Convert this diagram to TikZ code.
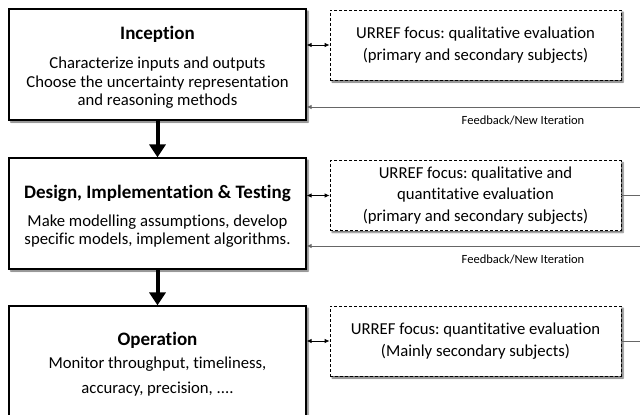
\documentclass[tikz,border=0pt]{standalone}
\usepackage{fontspec}
\setmainfont{Carlito}[Ligatures=NoCommon]
\frenchspacing
\usetikzlibrary{arrows.meta,shadows.blur}

\tikzset{
  soft shadow/.style={blur shadow={shadow xshift=2pt, shadow yshift=-2pt,
    shadow blur radius=1.5pt, shadow blur steps=6, shadow opacity=60}},
  stage/.style={draw, line width=1.2pt, fill=white, minimum width=297pt,
    minimum height=111pt, inner sep=0pt, align=center,
    font=\fontsize{16.7}{18.5}\selectfont, soft shadow},
  focus/.style={draw, line width=0.8pt, dash pattern=on 3pt off 2pt, fill=white,
    minimum width=291pt, minimum height=70pt, inner sep=0pt, align=center,
    font=\fontsize{16.7}{21.5}\selectfont, soft shadow},
  fblabel/.style={font=\fontsize{12.5}{14}\selectfont, inner sep=0pt},
  flow/.style={line width=4pt, -{Triangle[width=16pt,length=13pt]}},
  link/.style={line width=0.8pt, {Latex[length=5pt,width=4.5pt]}-{Latex[length=5pt,width=4.5pt]}},
  feedback/.style={line width=0.8pt, draw=black!60, -{Latex[length=5pt,width=4.5pt]}},
  tail/.style={line width=0.8pt, draw=black!60},
}
\newcommand{\stagetitle}[1]{{\bfseries\fontsize{19}{22}\selectfont\rule{0pt}{19pt}#1}}

\begin{document}
\begin{tikzpicture}[x=1pt,y=-1pt]
  \useasboundingbox (0,0) rectangle (640,415);
  \clip (0,0) rectangle (640,415);

  % life-cycle stages
  \node[stage] (inception) at (157.5,64.5)
    {\stagetitle{Inception}\\[11pt]
     Characterize inputs and outputs\\
     Choose the uncertainty representation\\
     and reasoning methods};
  \node[stage] (design) at (157.5,213.5)
    {\stagetitle{Design, Implementation \& Testing}\\[9pt]
     Make modelling assumptions, develop\\
     specific models, implement algorithms.};
  \node[stage] (operation) at (157.5,361.5)
    {\stagetitle{Operation}\\[4.5pt]
     Monitor throughput, timeliness,\\[7pt]
     accuracy, precision, ....};

  % URREF evaluation focus per stage
  \node[focus] (focusA) at (475.5,45)
    {URREF focus: qualitative evaluation\\
     (primary and secondary subjects)};
  \node[focus] (focusB) at (475.5,195.5)
    {URREF focus: qualitative and\\
     quantitative evaluation\\
     (primary and secondary subjects)};
  \node[focus] (focusC) at (475.5,341)
    {URREF focus: quantitative evaluation\\
     (Mainly secondary subjects)};

  % stage progression
  \draw[flow] (inception.south) -- (design.north);
  \draw[flow] (design.south) -- (operation.north);

  % links between stages and their focus boxes
  \draw[link] (focusA.west -| inception.east) -- (focusA.west);
  \draw[link] (focusB.west -| design.east) -- (focusB.west);
  \draw[link] (focusC.west -| operation.east) -- (focusC.west);

  % feedback loops entering from the right
  \coordinate (fbA) at (640,107);
  \coordinate (fbB) at (640,246);
  \draw[feedback] (fbA) -- (fbA -| inception.east);
  \draw[feedback] (fbB) -- (fbB -| design.east);
  \node[fblabel] (fbtextA) at (523,120.5) {Feedback/New Iteration};
  \node[fblabel] (fbtextB) at (523,259) {Feedback/New Iteration};

  % lines leaving the focus boxes to the right
  \coordinate (outB) at (640,196);
  \coordinate (outC) at (640,341);
  \draw[tail] (focusB.east) -- (focusB.east -| outB);
  \draw[tail] (focusC.east) -- (focusC.east -| outC);
\end{tikzpicture}
\end{document}
